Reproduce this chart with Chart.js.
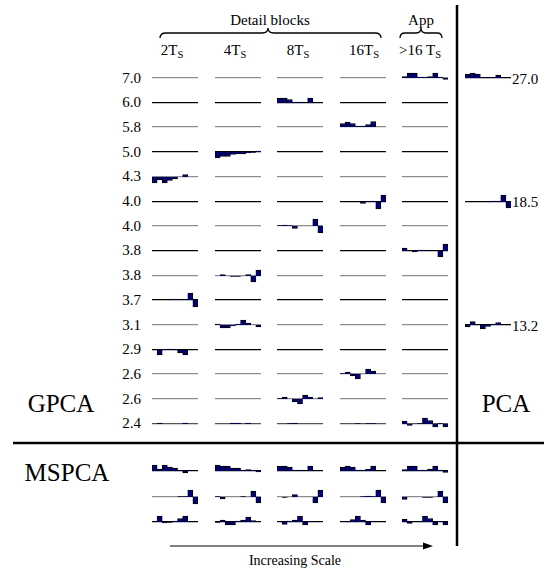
<!DOCTYPE html>
<html>
<head>
<meta charset="utf-8">
<script src="https://cdn.jsdelivr.net/npm/chart.js@4.4.1/dist/chart.umd.min.js"></script>
<style>
  html, body { margin: 0; padding: 0; background: #fff; }
  #fig { position: relative; width: 544px; height: 572px; overflow: hidden;
         font-family: "Liberation Serif", "DejaVu Serif", serif; color: #000; }
  .lbl { position: absolute; white-space: nowrap; line-height: 1; }
  .lbl sub { font-size: 0.7em; vertical-align: -0.25em; }
  canvas.spark { position: absolute; }
  svg { position: absolute; left: 0; top: 0; }
</style>
</head>
<body>
<div id="fig">
  <svg width="544" height="572">
    <!-- braces -->
    <path d="M160,38 Q160,33 166,33 L262,33 Q268,33 268,28 Q268,33 274,33 L375,33 Q381,33 381,38" fill="none" stroke="#000" stroke-width="1.3"/>
    <path d="M400,38 Q400,33 405,33 L416,33 Q421,33 421,28 Q421,33 426,33 L437,33 Q442,33 442,38" fill="none" stroke="#000" stroke-width="1.3"/>
    <!-- separators -->
    <line x1="457" y1="5" x2="457" y2="546" stroke="#000" stroke-width="2.5"/>
    <line x1="13" y1="443" x2="544" y2="443" stroke="#000" stroke-width="2.5"/>
    <!-- arrow -->
    <line x1="170" y1="546" x2="425" y2="546" stroke="#000" stroke-width="1"/>
    <path d="M433,546 L423,542.5 L423,549.5 Z" fill="#000"/>
  </svg>
</div>
<script>
// loadings on 9 variables, one small bar chart per block
const variables = ["1", "2", "3", "4", "5", "6", "7", "8", "9"];
const scaleLabels = ["2T<sub>S</sub>", "4T<sub>S</sub>", "8T<sub>S</sub>", "16T<sub>S</sub>", "&gt;16 T<sub>S</sub>"];
const gpcaEigen = ["7.0", "6.0", "5.8", "5.0", "4.3", "4.0", "4.0", "3.8", "3.8", "3.7", "3.1", "2.9", "2.6", "2.6", "2.4"];
const pcaEigen = ["27.0", "18.5", "13.2"];

// GPCA: the one nonzero block of each principal component
const gpca70 = [0.15, 0.5, 0.5, 0.1, 0.1, 0.15, 0.5, 0.1, -0.15];
const gpca60 = [0.5, 0.5, 0.35, 0.1, 0.1, 0, 0.5, 0, 0];
const gpca58 = [0.35, 0.5, 0.35, 0.1, 0.1, 0.25, 0.55, 0, 0];
const gpca50 = [-0.6, -0.45, -0.45, -0.25, -0.2, -0.2, -0.1, -0.05, 0.1];
const gpca43 = [-0.6, -0.3, -0.6, -0.35, -0.2, 0, 0.25, 0, 0];
const gpca40a = [0, 0, 0, 0, -0.15, 0.05, 0.1, -0.7, 0.7];
const gpca40b = [0.05, 0.1, 0.05, -0.25, 0, 0, 0, 0.7, -0.7];
const gpca38a = [0.3, 0, -0.1, 0.1, 0.1, 0, 0, -0.6, 0.7];
const gpca38b = [0, 0.15, 0, -0.05, -0.05, 0, 0.15, -0.6, 0.6];
const gpca37 = [0, 0, 0, 0, 0.1, 0, 0.05, 0.7, -0.7];
const gpca31 = [0.1, -0.3, -0.3, -0.1, 0.1, 0.5, 0.2, 0, -0.2];
const gpca29 = [0, -0.5, 0.05, 0.1, 0, -0.3, -0.5, 0, 0];
const gpca26a = [0.05, 0.2, -0.2, -0.5, 0, 0.5, 0.3, 0, 0];
const gpca26b = [0.05, 0.2, 0, -0.3, -0.5, 0.4, 0.2, 0, 0.15];
const gpca24 = [
  [0, 0.1, 0, 0, 0, 0, 0.1, 0, 0],
  [0, 0, 0, 0.1, 0.1, 0, 0.1, 0, 0],
  [0, 0, 0.05, 0.1, 0, 0, 0, 0, 0],
  [0, 0, 0, 0.05, 0, 0.05, 0.05, 0, 0],
  [0.3, -0.15, 0, 0.05, 0.6, 0.35, -0.3, 0.05, -0.3]
];
// [row, scale column, loadings]
const gpcaBlocks = [
  [0, 4, gpca70], [1, 2, gpca60], [2, 3, gpca58], [3, 1, gpca50], [4, 0, gpca43],
  [5, 3, gpca40a], [6, 2, gpca40b], [7, 4, gpca38a], [8, 1, gpca38b], [9, 0, gpca37],
  [10, 1, gpca31], [11, 0, gpca29], [12, 3, gpca26a], [13, 2, gpca26b]
];
const gpcaLine = ["#8c8c8c", "#000", "#8c8c8c", "#000", "#8c8c8c", "#000", "#8c8c8c", "#000", "#8c8c8c", "#000", "#8c8c8c", "#000", "#8c8c8c", "#8c8c8c", "#555"];

const pca = [
  [0.4, 0.5, 0.4, 0.05, 0.05, 0.05, 0.3, 0, 0],
  [0, 0, 0, 0, 0, 0.1, 0.1, 0.7, -0.6],
  [-0.2, 0.35, 0, -0.4, -0.15, 0.1, 0.25, 0, 0]
];
const pcaRows = [0, 5, 10];

const mspca1 = [
  [0.6, 0.2, 0.6, 0.4, 0.3, 0, -0.2, 0, 0],
  [0.6, 0.5, 0.5, 0.3, 0.3, 0.1, 0.15, 0.05, -0.1],
  [0.5, 0.5, 0.4, 0.1, 0.1, 0, 0.5, 0, 0],
  [0.4, 0.5, 0.4, 0.1, 0.1, 0.2, 0.5, 0, 0],
  [0.15, 0.5, 0.5, 0.1, 0.1, 0.2, 0.5, 0.1, -0.15]
];
const mspca2 = [
  [0, 0, 0, 0, 0, 0.05, 0.05, 0.7, -0.7],
  [0.05, -0.2, 0, 0, 0, 0.05, 0, 0.6, -0.6],
  [0, -0.05, 0, 0.25, 0, 0, 0, -0.6, 0.7],
  [0, 0, 0, 0, 0.05, 0.1, 0.05, 0.7, -0.6],
  [-0.25, 0, 0, 0, -0.05, -0.05, 0, 0.6, -0.6]
];
const mspca3 = [
  [0, 0.6, -0.1, -0.05, 0.1, 0.35, 0.6, 0.05, 0],
  [-0.05, 0.2, -0.3, -0.3, 0.1, 0.2, 0.5, 0.15, 0],
  [0, -0.25, 0.1, 0.2, 0.6, -0.3, 0.05, 0.05, 0],
  [0, 0.05, 0.25, 0.6, 0.2, -0.3, 0.05, 0.05, 0],
  [0.3, -0.15, 0, 0.05, 0.6, 0.35, -0.3, 0.05, -0.3]
];
const mspcaLine = ["#000", "#8c8c8c", "#000"];

// layout
const colX = [152, 215, 277, 340, 402];
const pcaX = 465;
const cellW = 46, cellH = 20;
const rowY0 = 78, rowStep = 24.7;
const mspcaY = [471, 497, 522];

const fig = document.getElementById("fig");

function addText(html, x, y, size, align) {
  const d = document.createElement("div");
  d.className = "lbl";
  d.innerHTML = html;
  d.style.fontSize = size + "px";
  d.style.top = (y - size / 2) + "px";
  if (align === "right") {
    d.style.right = (544 - x) + "px";
  } else if (align === "left") {
    d.style.left = x + "px";
  } else {
    d.style.left = x + "px";
    d.style.transform = "translateX(-50%)";
  }
  fig.appendChild(d);
}

function spark(x, yc, values, lineColor) {
  const canvas = document.createElement("canvas");
  canvas.className = "spark";
  canvas.width = cellW;
  canvas.height = cellH;
  canvas.style.left = x + "px";
  canvas.style.top = (yc - cellH / 2) + "px";
  fig.appendChild(canvas);
  new Chart(canvas, {
    type: "bar",
    data: {
      labels: variables,
      datasets: [{
        data: values,
        backgroundColor: "#000080",
        borderColor: "#000",
        borderWidth: 1,
        barPercentage: 1,
        categoryPercentage: 1
      }]
    },
    options: {
      responsive: false,
      animation: false,
      events: [],
      layout: { padding: 0 },
      plugins: { legend: { display: false }, tooltip: { enabled: false } },
      scales: {
        x: {
          position: { y: 0 },
          grid: { display: false, drawTicks: false },
          ticks: { display: false },
          border: { color: lineColor, width: 1.2 }
        },
        y: { display: false, min: -1, max: 1 }
      }
    }
  });
}

// GPCA grid
gpcaEigen.forEach((label, r) => {
  const y = rowY0 + r * rowStep;
  addText(label, 141, y, 15, "right");
  for (let c = 0; c < colX.length; c++) {
    let vals = variables.map(() => 0);
    if (r === 14) vals = gpca24[c];
    gpcaBlocks.forEach(b => { if (b[0] === r && b[1] === c) vals = b[2]; });
    spark(colX[c], y, vals, gpcaLine[r]);
  }
});

// PCA column
pcaRows.forEach((r, i) => {
  const y = rowY0 + r * rowStep;
  spark(pcaX, y, pca[i], "#000");
  addText(pcaEigen[i], pcaX + cellW + 1, y + 1, 15, "left");
});

// MSPCA rows
[mspca1, mspca2, mspca3].forEach((row, r) => {
  row.forEach((vals, c) => spark(colX[c], mspcaY[r], vals, mspcaLine[r]));
});

// headers and labels
const headX = [172, 235, 298, 364, 420];
scaleLabels.forEach((t, i) => addText(t, headX[i], 50, 15));
addText("Detail blocks", 270, 20, 15);
addText("App", 421, 20, 15);
addText("GPCA", 61, 403, 25);
addText("PCA", 506, 403, 25);
addText("MSPCA", 67, 472, 25);
addText("Increasing Scale", 295, 561, 14);
</script>
</body>
</html>
